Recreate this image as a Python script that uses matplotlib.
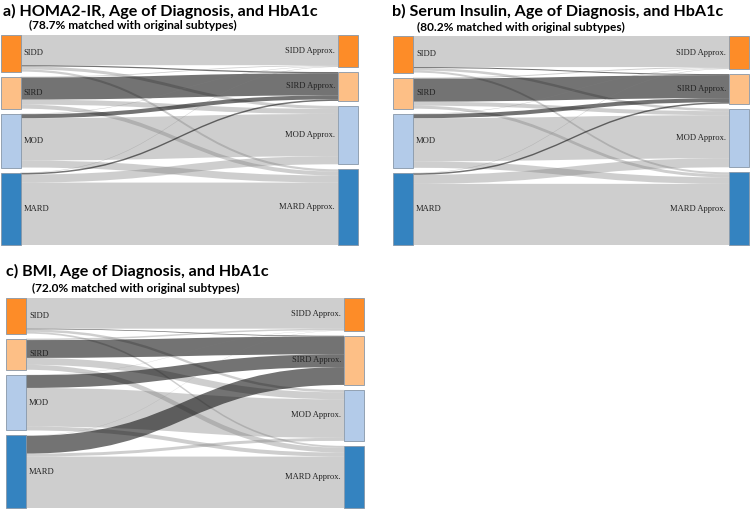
import numpy as np
import matplotlib
matplotlib.use('Agg')
import matplotlib.pyplot as plt
from matplotlib.path import Path
from matplotlib.patches import PathPatch, Rectangle

sources = ['SIDD', 'SIRD', 'MOD', 'MARD']
targets = ['SIDD Approx.', 'SIRD Approx.', 'MOD Approx.', 'MARD Approx.']
node_colors = ['#fd8c28', '#fdbf86', '#b3cbe9', '#3483c0']

# rows: original subtype, columns: approximated subtype (estimated from the figure)
flows_a = [[30.0, 1.2, 3.0, 2.2],
           [0.8, 22.0, 5.0, 4.0],
           [0.5, 4.0, 42.0, 7.0],
           [0.5, 1.5, 8.0, 62.0]]
flows_b = [[31.0, 1.0, 2.5, 2.0],
           [1.0, 23.0, 4.0, 3.0],
           [0.5, 4.0, 43.0, 6.5],
           [0.5, 1.5, 9.0, 61.0]]
flows_c = [[31.0, 0.7, 2.5, 1.8],
           [1.5, 18.0, 7.0, 5.0],
           [0.3, 13.0, 39.0, 4.0],
           [0.3, 18.0, 3.0, 52.0]]

titles = ['a) HOMA2-IR, Age of Diagnosis, and HbA1c',
          'b) Serum Insulin, Age of Diagnosis, and HbA1c',
          'c) BMI, Age of Diagnosis, and HbA1c']
subtitles = ['(78.7% matched with original subtypes)',
             '(80.2% matched with original subtypes)',
             '(72.0% matched with original subtypes)']

GRAY = (0.5, 0.5, 0.5, 0.38)
DARK = (0.0, 0.0, 0.0, 0.55)


def draw_sankey(ax, flows, x0, x1, top, bottom, node_w=20, pad=5):
    F = np.array(flows, dtype=float)
    scale = (bottom - top - 3 * pad) / F.sum()
    H = F * scale
    out_h = H.sum(axis=1)
    in_h = H.sum(axis=0)
    ly = top + np.concatenate([[0], np.cumsum(out_h[:-1] + pad)])
    ry = top + np.concatenate([[0], np.cumsum(in_h[:-1] + pad)])
    src_start = ly[:, None] + np.cumsum(H, axis=1) - H
    tgt_start = ry[None, :] + np.cumsum(H, axis=0) - H

    xa = x0 + node_w
    xb = x1
    xm = (xa + xb) / 2
    codes = [Path.MOVETO, Path.CURVE4, Path.CURVE4, Path.CURVE4, Path.LINETO,
             Path.CURVE4, Path.CURVE4, Path.CURVE4, Path.CLOSEPOLY]
    for i in range(4):
        for j in range(4):
            h = H[i, j]
            if h <= 0:
                continue
            y0 = src_start[i, j]
            y1 = tgt_start[i, j]
            verts = [(xa, y0), (xm, y0), (xm, y1), (xb, y1), (xb, y1 + h),
                     (xm, y1 + h), (xm, y0 + h), (xa, y0 + h), (xa, y0)]
            col = DARK if j == 1 else GRAY
            ax.add_patch(PathPatch(Path(verts, codes), facecolor=col, edgecolor='none', lw=0))

    for i in range(4):
        ax.add_patch(Rectangle((x0, ly[i]), node_w, out_h[i], facecolor=node_colors[i],
                               edgecolor='#8797a8', lw=0.6, zorder=3))
        ax.text(xa + 3, ly[i] + out_h[i] / 2, sources[i], ha='left', va='center',
                fontsize=6.1, family='Liberation Serif', color='#222222', zorder=4)
        ax.add_patch(Rectangle((x1, ry[i]), node_w, in_h[i], facecolor=node_colors[i],
                               edgecolor='#8797a8', lw=0.6, zorder=3))
        ax.text(x1 - 3, ry[i] + in_h[i] / 2, targets[i], ha='right', va='center',
                fontsize=6.1, family='Liberation Serif', color='#222222', zorder=4)


fig = plt.figure(figsize=(7.5, 5.09), dpi=100)
ax = fig.add_axes([0, 0, 1, 1])
ax.set_xlim(0, 750)
ax.set_ylim(509, 0)
ax.axis('off')

draw_sankey(ax, flows_a, 0.5, 338, 35, 245)
draw_sankey(ax, flows_b, 393, 729, 36, 245)
draw_sankey(ax, flows_c, 6, 344, 298, 508)

title_pos = [(3, 11), (392, 11), (6, 271)]
sub_pos = [(29, 25), (417, 27), (32, 288)]
for k in range(3):
    ax.text(title_pos[k][0], title_pos[k][1], titles[k], ha='left', va='center',
            fontsize=11.6, fontweight='bold', family='Lato', color='black')
    ax.text(sub_pos[k][0], sub_pos[k][1], subtitles[k], ha='left', va='center',
            fontsize=8.6, fontweight='bold', family='Lato', color='black')

fig.savefig('out.png', dpi=100)
